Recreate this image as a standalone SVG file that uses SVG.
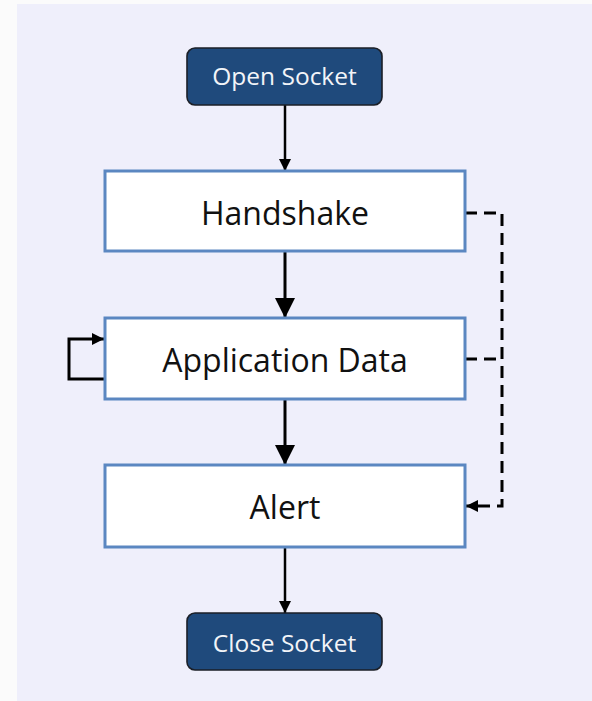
<svg xmlns="http://www.w3.org/2000/svg" width="592" height="701" viewBox="0 0 592 701">
  <defs>
    <style>
      .term rect { fill: #1f4a7c; stroke: #1b1f27; stroke-width: 1.6; }
      .term text { fill: #f2f4f8; font-family: "Open Sans", "Liberation Sans", sans-serif; font-size: 24.5px; text-anchor: middle; }
      .state rect { fill: #ffffff; stroke: #5b87c1; stroke-width: 3; }
      .state text { fill: #111111; font-family: "Open Sans", "Liberation Sans", sans-serif; font-size: 32px; text-anchor: middle; }
      .flow { fill: none; stroke: #000000; stroke-width: 3; }
      .thin { stroke-width: 2.5; }
      .dash { fill: none; stroke: #000000; stroke-width: 3; stroke-dasharray: 12 7; }
    </style>
    <marker id="bigHead" viewBox="0 0 20 20" refX="20" refY="10" markerWidth="20" markerHeight="20" markerUnits="userSpaceOnUse" orient="auto">
      <path d="M0,0 L20,10 L0,20 Z" fill="#000000"/>
    </marker>
    <marker id="smallHead" viewBox="0 0 12 12" refX="12" refY="6" markerWidth="12" markerHeight="12" markerUnits="userSpaceOnUse" orient="auto">
      <path d="M0,0 L12,6 L0,12 Z" fill="#000000"/>
    </marker>
  </defs>

  <!-- page and panel -->
  <rect x="0" y="0" width="592" height="701" fill="#fbfbfb"/>
  <rect x="17" y="4" width="575" height="697" fill="#efeffb"/>

  <!-- connectors -->
  <g id="connectors">
    <path class="flow thin" d="M285,105 L285,171" marker-end="url(#smallHead)"/>
    <path class="flow" d="M285,251 L285,318" marker-end="url(#bigHead)"/>
    <path class="flow" d="M285,399 L285,465" marker-end="url(#bigHead)"/>
    <path class="flow thin" d="M285,547 L285,613" marker-end="url(#smallHead)"/>
    <!-- self loop on Application Data -->
    <path class="flow" d="M105,379 L69,379 L69,339 L104,339" marker-end="url(#smallHead)"/>
    <!-- dashed alert paths -->
    <path class="dash" d="M465,213 L502,213 L502,506 L466,506" marker-end="url(#smallHead)"/>
    <path class="dash" d="M465,359 L502,359"/>
  </g>

  <g id="open-socket" class="term">
    <rect x="187" y="48" width="195" height="57" rx="8"/>
    <text x="284.5" y="85">Open Socket</text>
  </g>

  <g id="handshake" class="state">
    <rect x="105" y="171" width="360" height="80"/>
    <text x="285" y="225">Handshake</text>
  </g>

  <g id="application-data" class="state">
    <rect x="105" y="318" width="360" height="81"/>
    <text x="285" y="372">Application Data</text>
  </g>

  <g id="alert" class="state">
    <rect x="105" y="465" width="360" height="82"/>
    <text x="285" y="519">Alert</text>
  </g>

  <g id="close-socket" class="term">
    <rect x="187" y="613" width="195" height="57" rx="8"/>
    <text x="284.5" y="652">Close Socket</text>
  </g>
</svg>
